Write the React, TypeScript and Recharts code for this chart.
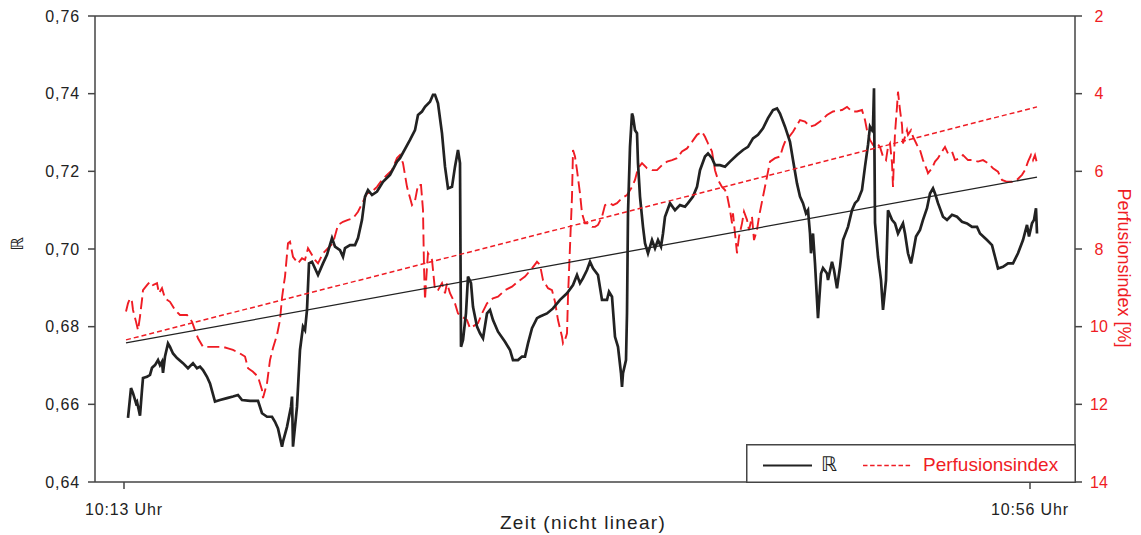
import { LineChart, Line, XAxis, YAxis, ReferenceLine, Label } from 'recharts'

const FONT = '"Liberation Sans", Arial, Helvetica, sans-serif'
const INK = '#222222'
const AXIS_COLOR = '#454545'
const RED = '#ef1c24'

// sample positions along the (non-linear) time axis
const rTime = [
  33, 36, 38, 41, 42, 45, 47, 48, 52, 55, 57, 60, 63, 65, 67, 68, 70, 73, 75, 78, 82, 88, 93, 98, 102, 105, 108, 112, 115,
  120, 125, 132, 138, 143, 147, 155, 163, 167, 172, 177, 180, 183, 187, 188, 192, 196, 197, 198, 202, 205, 208, 210, 212,
  214, 217, 223, 228, 232, 237, 240, 245, 248, 250, 255, 260, 263, 267, 270, 273, 277, 282, 288, 295, 302, 305, 315, 320,
  323, 327, 330, 335, 338, 340, 343, 347, 350, 353, 357, 360, 363, 365, 366, 368, 371, 373, 376, 378, 382, 385, 388, 392,
  395, 398, 403, 410, 415, 418, 423, 427, 430, 433, 437, 442, 445, 452, 458, 465, 472, 478, 482, 485, 488, 492, 495, 498,
  503, 507, 512, 514, 517, 520, 523, 526, 527, 528, 531, 532, 533, 535, 537, 538, 540, 542, 543, 545, 548, 550, 553, 557,
  560, 563, 566, 568, 570, 575, 580, 585, 590, 593, 598, 602, 605, 610, 613, 617, 620, 625, 630, 635, 642, 648, 653, 658,
  663, 668, 673, 678, 682, 685, 690, 695, 698, 702, 705, 708, 711, 713, 715, 716, 718, 720, 723, 726, 728, 732, 733, 737,
  739, 742, 745, 748, 753, 757, 760, 763, 767, 770, 773, 775, 777, 778, 779, 780, 783, 786, 788, 791, 793, 797, 800, 803,
  808, 810, 813, 816, 818, 821, 825, 828, 832, 835, 838, 840, 843, 848, 852, 857, 862, 867, 872, 877, 882, 885, 892, 897,
  900, 903, 908, 913, 918, 923, 928, 932, 934, 937, 939, 941, 942,
]
const rValues = [
  0.6565, 0.6642, 0.6629, 0.6603, 0.6607, 0.6571, 0.6637, 0.6668, 0.6671, 0.6676, 0.6694, 0.6701, 0.6714, 0.6701, 0.671,
  0.6681, 0.6723, 0.6757, 0.6748, 0.6731, 0.6719, 0.6706, 0.6693, 0.6706, 0.6693, 0.6697, 0.6688, 0.6671, 0.6654, 0.6607,
  0.6611, 0.6616, 0.662, 0.6624, 0.6611, 0.6609, 0.6609, 0.6577, 0.6568, 0.6568, 0.6555, 0.6538, 0.6491, 0.6504, 0.6542,
  0.6594, 0.662, 0.6491, 0.6594, 0.674, 0.68, 0.6791, 0.6843, 0.6963, 0.6967, 0.6933, 0.6963, 0.6985, 0.7028, 0.7006,
  0.6997, 0.698, 0.7002, 0.701, 0.701, 0.7028, 0.7075, 0.7135, 0.7152, 0.7139, 0.7148, 0.7173, 0.7191, 0.7225, 0.7234,
  0.7281, 0.7306, 0.7345, 0.7354, 0.7366, 0.7379, 0.7397, 0.7397, 0.7375, 0.7298, 0.7212, 0.7156, 0.716, 0.7212, 0.7255,
  0.7221, 0.6748, 0.6766, 0.6835, 0.6929, 0.6912, 0.6851, 0.68, 0.6783, 0.677, 0.6834, 0.6843, 0.6817, 0.6787, 0.6761,
  0.674, 0.6714, 0.6714, 0.6723, 0.6723, 0.6757, 0.6796, 0.6822, 0.6826, 0.6834, 0.6847, 0.6869, 0.6886, 0.6907, 0.6933,
  0.6912, 0.6925, 0.6946, 0.6967, 0.695, 0.6933, 0.6869, 0.6869, 0.689, 0.6877, 0.6774, 0.6748, 0.668, 0.6645, 0.668,
  0.6714, 0.6834, 0.7092, 0.7263, 0.7349, 0.7341, 0.7306, 0.7298, 0.7221, 0.7135, 0.7057, 0.7015, 0.6989, 0.7023, 0.7002,
  0.7023, 0.7006, 0.704, 0.7083, 0.7118, 0.71, 0.7113, 0.7109, 0.7118, 0.7135, 0.716, 0.7203, 0.7238, 0.7246, 0.7234,
  0.7216, 0.7216, 0.7212, 0.7225, 0.7242, 0.7255, 0.7263, 0.7285, 0.7294, 0.7311, 0.7337, 0.7358, 0.7362, 0.7349, 0.7315,
  0.7276, 0.7229, 0.7169, 0.7135, 0.7118, 0.7092, 0.71, 0.704, 0.6989, 0.704, 0.6963, 0.6822, 0.6937, 0.6951, 0.6937,
  0.692, 0.6967, 0.6946, 0.6899, 0.6954, 0.7023, 0.7057, 0.71, 0.7118, 0.7126, 0.7152, 0.7212, 0.7268, 0.7315, 0.7306,
  0.7315, 0.7414, 0.7067, 0.698, 0.692, 0.6843, 0.692, 0.71, 0.7075, 0.7066, 0.704, 0.7066, 0.704, 0.6989, 0.6963, 0.6989,
  0.7032, 0.7049, 0.7075, 0.7105, 0.7143, 0.7156, 0.7143, 0.7118, 0.7083, 0.7075, 0.7088, 0.7083, 0.707, 0.7066, 0.7057,
  0.7057, 0.704, 0.7023, 0.701, 0.698, 0.695, 0.6954, 0.6963, 0.6963, 0.6989, 0.7023, 0.7062, 0.7032, 0.7066, 0.7075,
  0.7105, 0.704,
]

const piTime = [
  31, 33, 35, 37, 38, 41, 43, 45, 47, 48, 52, 55, 58, 62, 64, 67, 70, 75, 80, 85, 92, 97, 100, 103, 108, 115, 122, 128, 133,
  138, 145, 150, 153, 158, 163, 167, 168, 172, 175, 178, 182, 185, 187, 189, 190, 193, 195, 198, 203, 207, 210, 213, 220,
  223, 228, 233, 238, 243, 248, 253, 258, 263, 268, 272, 277, 282, 287, 292, 297, 302, 305, 308, 312, 317, 320, 323, 326,
  328, 329, 330, 332, 333, 337, 339, 340, 343, 347, 350, 352, 355, 360, 363, 367, 372, 375, 380, 383, 387, 392, 398, 403,
  410, 417, 423, 430, 437, 442, 445, 448, 453, 457, 460, 463, 467, 468, 470, 472, 473, 475, 477, 478, 480, 482, 485, 487,
  490, 493, 497, 500, 503, 507, 510, 515, 518, 522, 527, 532, 537, 540, 543, 547, 552, 557, 562, 567, 572, 577, 582, 587,
  592, 597, 602, 607, 610, 613, 617, 620, 623, 627, 630, 632, 635, 637, 638, 640, 642, 644, 647, 649, 652, 654, 657, 659,
  662, 664, 668, 672, 675, 680, 685, 688, 690, 693, 698, 702, 705, 710, 715, 720, 725, 732, 738, 747, 752, 757, 762, 767,
  770, 772, 775, 778, 782, 785, 788, 791, 793, 795, 797, 798, 799, 800, 802, 803, 805, 807, 808, 810, 812, 813, 816, 818,
  822, 825, 828, 832, 833, 837, 840, 843, 847, 850, 853, 857, 860, 865, 868, 873, 878, 883, 888, 893, 898, 903, 907, 912,
  917, 922, 927, 930, 933, 936, 938, 940, 942,
]
const piValues = [
  9.61, 9.4, 9.27, 9.36, 9.57, 9.87, 10.09, 9.74, 9.31, 9.06, 8.93, 8.84, 8.93, 8.88, 9.14, 9.01, 9.27, 9.36, 9.57, 9.7,
  9.7, 9.87, 10.09, 10.3, 10.52, 10.52, 10.52, 10.52, 10.56, 10.6, 10.69, 10.77, 11.07, 11.16, 11.29, 11.63, 11.84, 11.46,
  10.86, 10.55, 10.21, 9.83, 9.26, 8.88, 8.71, 7.85, 7.81, 8.2, 8.37, 8.24, 8.28, 7.98, 8.28, 8.37, 8.11, 7.98, 7.85, 7.38,
  7.3, 7.25, 7.21, 7.04, 6.78, 6.57, 6.52, 6.4, 6.22, 6.09, 5.97, 5.66, 5.58, 5.79, 6.4, 6.87, 6.76, 6.35, 6.35, 7.0, 8.46,
  9.31, 8.46, 8.11, 8.28, 8.8, 9.06, 9.06, 8.88, 9.14, 8.88, 9.14, 9.4, 9.66, 9.74, 9.83, 10.04, 9.96, 9.91, 9.66, 9.4,
  9.27, 9.23, 9.06, 8.97, 8.84, 8.71, 8.5, 8.33, 8.41, 8.8, 9.01, 9.06, 9.36, 9.83, 10.26, 10.43, 10.34, 10.17, 9.23, 7.94,
  6.65, 5.45, 5.62, 5.97, 6.57, 7.08, 7.34, 7.34, 7.43, 7.43, 7.38, 7.17, 6.87, 6.82, 6.87, 6.82, 6.69, 6.61, 6.4, 6.22,
  5.92, 5.79, 5.92, 5.97, 5.97, 5.84, 5.75, 5.71, 5.66, 5.49, 5.41, 5.24, 5.06, 4.98, 5.11, 5.28, 5.49, 5.97, 6.22, 6.4,
  6.48, 6.61, 7.0, 7.34, 7.08, 7.6, 8.11, 7.68, 7.34, 7.04, 7.25, 7.51, 7.17, 7.77, 7.51, 7.17, 6.65, 6.14, 5.75, 5.66,
  5.62, 5.37, 5.24, 5.15, 4.98, 4.81, 4.68, 4.72, 4.85, 4.81, 4.72, 4.55, 4.46, 4.42, 4.34, 4.46, 4.46, 4.42, 4.68, 4.94,
  5.19, 5.32, 5.28, 5.37, 5.62, 5.71, 5.37, 5.28, 5.79, 6.4, 5.62, 5.02, 4.34, 3.95, 4.42, 4.81, 5.28, 5.11, 4.94, 5.06,
  4.94, 5.11, 5.32, 5.45, 5.71, 5.97, 6.05, 5.92, 5.75, 5.66, 5.49, 5.37, 5.54, 5.49, 5.71, 5.66, 5.58, 5.71, 5.71, 5.75,
  5.71, 5.79, 5.92, 6.01, 6.22, 6.27, 6.27, 6.22, 6.09, 5.97, 5.75, 5.58, 5.71, 5.58, 5.79,
]

// linear trend lines, start and end values
const trendTime = [31, 942]
const rTrend = [0.6758, 0.7185]
const piTrend = [10.34, 4.34]

const timeTicks = [29, 935]
const timeLabels = ['10:13 Uhr', '10:56 Uhr']
const rTicks = [0.64, 0.66, 0.68, 0.7, 0.72, 0.74, 0.76]
const piTicks = [2, 4, 6, 8, 10, 12, 14]

const rData = rTime.map((t, i) => ({ t, r: rValues[i] }))
const piData = piTime.map((t, i) => ({ t, pi: piValues[i] }))
const rTrendData = trendTime.map((t, i) => ({ t, r: rTrend[i] }))
const piTrendData = trendTime.map((t, i) => ({ t, pi: piTrend[i] }))

const axisLine = { stroke: AXIS_COLOR, strokeWidth: 1.5 }
const tickLine = { stroke: AXIS_COLOR, strokeWidth: 1.5 }

function RTick(props: any) {
  const { x, y, payload } = props
  return (
    <text x={x + 1} y={y} dy={5.5} textAnchor="end" fill={INK} fontSize={16} letterSpacing={0.9} fontFamily={FONT}>
      {payload.value.toFixed(2).replace('.', ',')}
    </text>
  )
}

function PiTick(props: any) {
  const { x, y, payload } = props
  return (
    <text x={x + 15} y={y} dy={5.5} textAnchor="middle" fill={RED} fontSize={16} fontFamily={FONT}>
      {payload.value}
    </text>
  )
}

function TimeTick(props: any) {
  const { x, y, payload } = props
  return (
    <text x={x} y={y} dy={11.5} textAnchor="middle" fill={INK} fontSize={16} letterSpacing={0.85} fontFamily={FONT}>
      {timeLabels[timeTicks.indexOf(payload.value)] ?? ''}
    </text>
  )
}

function ChartLegend() {
  return (
    <svg
      width={330}
      height={39}
      style={{ position: 'absolute', left: 746, top: 444 }}
    >
      <rect x={0.75} y={0.75} width={328.5} height={37.5} fill="#fff" stroke={AXIS_COLOR} strokeWidth={1.5} />
      <line x1={17} x2={66} y1={21.5} y2={21.5} stroke={INK} strokeWidth={1.8} />
      <text x={75} y={27} fontSize={20} fill={INK} fontFamily='"DejaVu Sans", sans-serif'>ℝ</text>
      <line x1={117} x2={166} y1={21.5} y2={21.5} stroke={RED} strokeWidth={1.5} strokeDasharray="4.5 2.6" />
      <text x={177} y={26.5} fontSize={19} fill={RED} fontFamily={FONT}>Perfusionsindex</text>
    </svg>
  )
}

export default function App() {
  return (
    <div style={{ position: 'absolute', left: 0, top: 0, width: 1141, height: 535, background: '#fff' }}>
      <LineChart width={1141} height={535} margin={{ top: 16, right: 0, bottom: 0, left: 35 }}>
        <XAxis
          dataKey="t"
          type="number"
          domain={[0, 980]}
          ticks={timeTicks}
          height={53}
          tickSize={7}
          tickMargin={14}
          axisLine={axisLine}
          tickLine={tickLine}
          tick={(p: any) => <TimeTick {...p} />}
        >
          <Label
            content={() => (
              <text x={583} y={529} textAnchor="middle" fontSize={19} letterSpacing={1.3} fill={INK} fontFamily={FONT}>
                Zeit (nicht linear)
              </text>
            )}
          />
        </XAxis>
        <YAxis
          yAxisId="r"
          width={60}
          domain={[0.64, 0.76]}
          ticks={rTicks}
          tickSize={7}
          tickMargin={9}
          axisLine={axisLine}
          tickLine={tickLine}
          tick={(p: any) => <RTick {...p} />}
        >
          <Label
            content={() => (
              <text
                x={17}
                y={244}
                transform="rotate(-90 17 244)"
                textAnchor="middle"
                dominantBaseline="central"
                fontSize={17}
                fill={INK}
                fontFamily='"DejaVu Sans", sans-serif'
              >
                ℝ
              </text>
            )}
          />
        </YAxis>
        <YAxis
          yAxisId="pi"
          orientation="right"
          width={66}
          reversed
          domain={[2, 14]}
          ticks={piTicks}
          tickSize={7}
          tickMargin={2}
          axisLine={axisLine}
          tickLine={tickLine}
          tick={(p: any) => <PiTick {...p} />}
        >
          <Label
            content={() => (
              <text
                x={1124}
                y={268}
                transform="rotate(90 1124 268)"
                textAnchor="middle"
                dominantBaseline="central"
                fontSize={18}
                fill={RED}
                fontFamily={FONT}
              >
                Perfusionsindex [%]
              </text>
            )}
          />
        </YAxis>
        <ReferenceLine yAxisId="r" y={0.76} stroke={AXIS_COLOR} strokeWidth={1.5} />

        <Line
          yAxisId="pi"
          data={piData}
          dataKey="pi"
          type="linear"
          stroke={RED}
          strokeWidth={1.9}
          strokeDasharray="12 5"
          dot={false}
          activeDot={false}
          isAnimationActive={false}
        />
        <Line
          yAxisId="r"
          data={rData}
          dataKey="r"
          type="linear"
          stroke={INK}
          strokeWidth={2.7}
          dot={false}
          activeDot={false}
          isAnimationActive={false}
        />
        <Line
          yAxisId="pi"
          data={piTrendData}
          dataKey="pi"
          type="linear"
          stroke={RED}
          strokeWidth={1.5}
          strokeDasharray="5 3"
          dot={false}
          activeDot={false}
          isAnimationActive={false}
        />
        <Line
          yAxisId="r"
          data={rTrendData}
          dataKey="r"
          type="linear"
          stroke={INK}
          strokeWidth={1.3}
          dot={false}
          activeDot={false}
          isAnimationActive={false}
        />
      </LineChart>
      <ChartLegend />
    </div>
  )
}
